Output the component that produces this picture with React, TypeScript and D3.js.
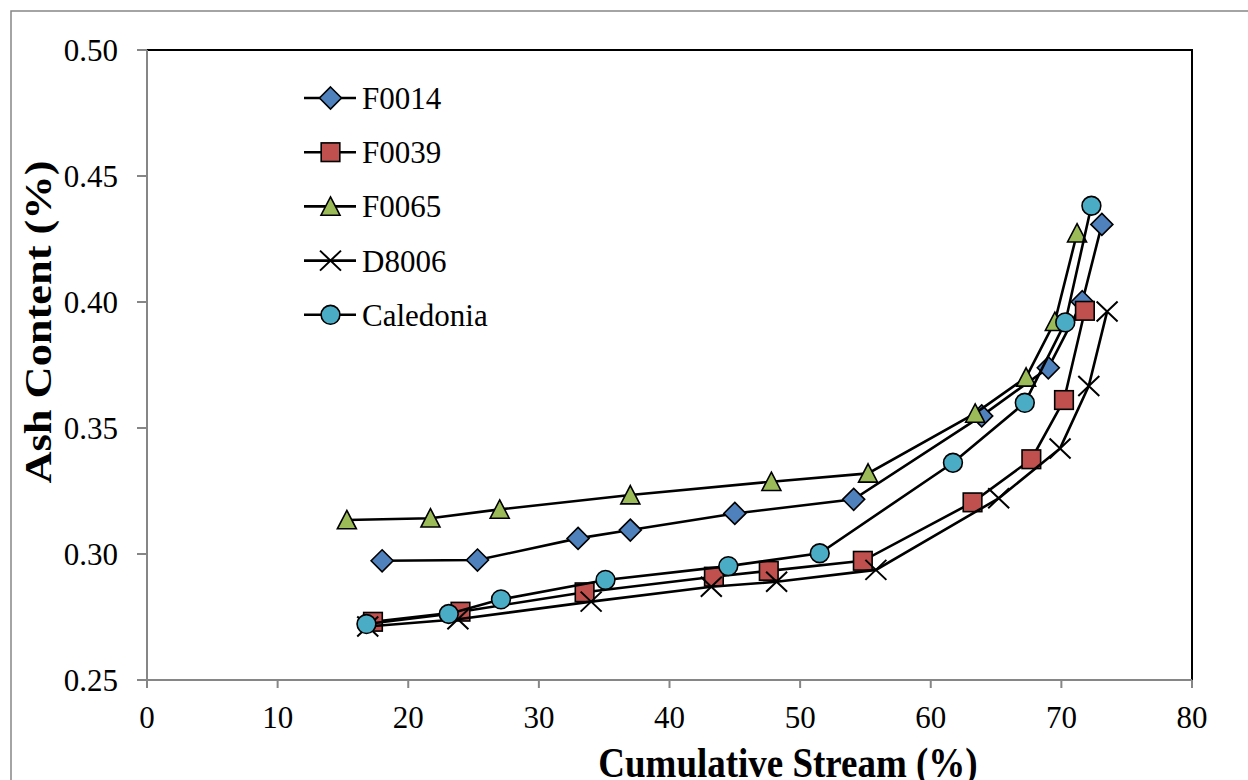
import React from "react";
import * as d3 from "d3";

// Cumulative stream (%) vs ash content (%) for five coal samples
const seriesNames = ["F0014", "F0039", "F0065", "D8006", "Caledonia"];

const f0014X = [18.0, 25.3, 33.0, 37.0, 45.0, 54.1, 63.9, 69.0, 71.6, 73.1];
const f0014Y = [0.2973, 0.2976, 0.3062, 0.3095, 0.3161, 0.3217, 0.3548, 0.3739, 0.4001, 0.4308];

const f0039X = [17.3, 24.0, 33.5, 43.4, 47.6, 54.8, 63.2, 67.7, 70.2, 71.8];
const f0039Y = [0.2731, 0.2771, 0.2848, 0.291, 0.2933, 0.2973, 0.3205, 0.3376, 0.3611, 0.3965];

const f0065X = [15.3, 21.7, 27.0, 37.0, 47.8, 55.2, 63.4, 67.3, 69.5, 71.2];
const f0065Y = [0.3135, 0.3142, 0.3177, 0.3234, 0.3287, 0.332, 0.3558, 0.3701, 0.3922, 0.4273];

const d8006X = [16.9, 23.8, 34.0, 43.2, 48.2, 55.8, 65.2, 69.9, 72.1, 73.5];
const d8006Y = [0.2712, 0.2741, 0.2811, 0.287, 0.289, 0.2937, 0.3221, 0.3419, 0.3667, 0.3962];

const caledoniaX = [16.8, 23.1, 27.1, 35.1, 44.5, 51.5, 61.7, 67.2, 70.3, 72.3];
const caledoniaY = [0.2722, 0.2762, 0.282, 0.2897, 0.2952, 0.3003, 0.3362, 0.36, 0.3919, 0.4382];

const xTicks = [0, 10, 20, 30, 40, 50, 60, 70, 80];
const yTicks = [0.25, 0.3, 0.35, 0.4, 0.45, 0.5];

const seriesX = [f0014X, f0039X, f0065X, d8006X, caledoniaX];
const seriesY = [f0014Y, f0039Y, f0065Y, d8006Y, caledoniaY];

type Shape = "diamond" | "square" | "triangle" | "x" | "circle";
const shapes: Shape[] = ["diamond", "square", "triangle", "x", "circle"];
const fills = ["#4F81BD", "#C0504D", "#9BBB59", "none", "#4BACC6"];

const SERIF = "'Liberation Serif', 'Times New Roman', serif";
const AXIS_GREY = "#868686";

function Marker({ shape, cx, cy, fill }: { shape: Shape; cx: number; cy: number; fill: string }) {
  const common = { stroke: "#000", strokeWidth: 1.6, fill };
  switch (shape) {
    case "diamond":
      return <path d={`M${cx},${cy - 11}L${cx + 11},${cy}L${cx},${cy + 11}L${cx - 11},${cy}Z`} {...common} />;
    case "square":
      return <rect x={cx - 9.3} y={cy - 9.3} width={18.6} height={18.6} {...common} />;
    case "triangle":
      return <path d={`M${cx},${cy - 9.5}L${cx + 9.5},${cy + 8.8}L${cx - 9.5},${cy + 8.8}Z`} {...common} />;
    case "x":
      return (
        <path
          d={`M${cx - 10.5},${cy - 10}L${cx + 10.5},${cy + 10}M${cx - 10.5},${cy + 10}L${cx + 10.5},${cy - 10}`}
          stroke="#000"
          strokeWidth={2}
          fill="none"
        />
      );
    default:
      return <circle cx={cx} cy={cy} r={9.4} {...common} />;
  }
}

export default function App() {
  const width = 1248;
  const height = 780;
  const left = 147;
  const right = 1192;
  const top = 50;
  const bottom = 680;

  const x = d3.scaleLinear().domain([0, 80]).range([left, right]);
  const y = d3.scaleLinear().domain([0.25, 0.5]).range([bottom, top]);

  const line = d3
    .line<[number, number]>()
    .x((d) => x(d[0]))
    .y((d) => y(d[1]));

  const legendY0 = 98;
  const legendStep = 54.2;

  return (
    <svg
      width={width}
      height={height}
      style={{ position: "absolute", left: 0, top: 0, background: "#fff" }}
      fontFamily={SERIF}
    >
      {/* chart frame */}
      <rect x={11} y={11} width={1260} height={800} fill="#fff" stroke={AXIS_GREY} strokeWidth={1.5} />

      {/* plot area border */}
      <rect x={left} y={top} width={right - left} height={bottom - top} fill="none" stroke="#000" strokeWidth={2} />

      {/* axes */}
      <line x1={left} y1={top} x2={left} y2={bottom} stroke={AXIS_GREY} strokeWidth={2} />
      <line x1={left} y1={bottom} x2={right} y2={bottom} stroke={AXIS_GREY} strokeWidth={2} />

      {yTicks.map((t) => (
        <g key={`y${t}`}>
          <line x1={left - 10} x2={left} y1={y(t)} y2={y(t)} stroke={AXIS_GREY} strokeWidth={2} />
          <text x={118} y={y(t) + 11} textAnchor="end" fontSize={31} fill="#000">
            {d3.format(".2f")(t)}
          </text>
        </g>
      ))}

      {xTicks.map((t) => (
        <g key={`x${t}`}>
          <line x1={x(t)} x2={x(t)} y1={bottom} y2={bottom + 8} stroke={AXIS_GREY} strokeWidth={2} />
          <text x={x(t)} y={727.5} textAnchor="middle" fontSize={31} fill="#000">
            {t}
          </text>
        </g>
      ))}

      {/* axis titles */}
      <text
        transform="translate(788,776.5) scale(1,1.16)"
        textAnchor="middle"
        fontSize={37}
        fontWeight="bold"
        fill="#000"
      >
        Cumulative Stream (%)
      </text>
      <text
        transform="translate(51,322) rotate(-90) scale(1.2,1)"
        textAnchor="middle"
        fontSize={37}
        fontWeight="bold"
        fill="#000"
      >
        Ash Content (%)
      </text>

      {/* series: line then markers, in legend order */}
      {seriesNames.map((name, i) => {
        const pts = seriesX[i].map((v, j) => [v, seriesY[i][j]] as [number, number]);
        return (
          <g key={name}>
            <path d={line(pts) ?? ""} fill="none" stroke="#000" strokeWidth={2.6} />
            {pts.map((p, j) => (
              <Marker key={j} shape={shapes[i]} cx={x(p[0])} cy={y(p[1])} fill={fills[i]} />
            ))}
          </g>
        );
      })}

      {/* legend */}
      {seriesNames.map((name, i) => {
        const ly = legendY0 + i * legendStep;
        return (
          <g key={`leg-${name}`}>
            <line x1={304} x2={356} y1={ly} y2={ly} stroke="#000" strokeWidth={2.6} />
            <Marker shape={shapes[i]} cx={330.5} cy={ly} fill={fills[i]} />
            <text x={362} y={ly + 11} fontSize={31} fill="#000">
              {name}
            </text>
          </g>
        );
      })}
    </svg>
  );
}
